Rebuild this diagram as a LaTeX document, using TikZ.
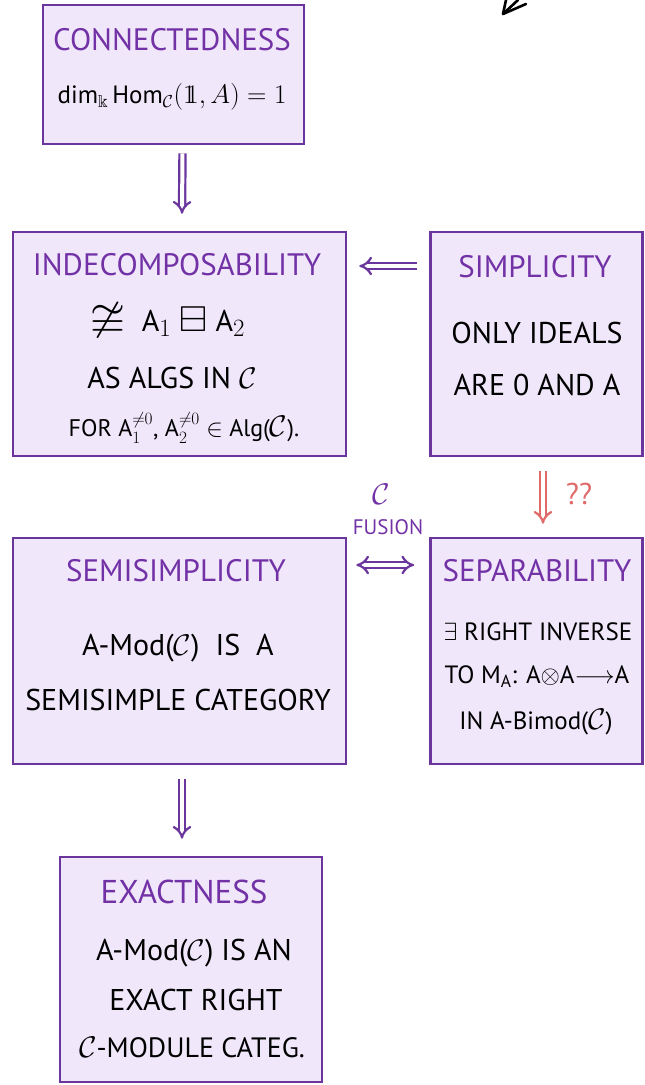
\documentclass[tikz,border=0pt]{standalone}
\usepackage{graphicx}
\usepackage{amssymb}
\usepackage{fontspec}
\setmainfont{PT Sans}
\usetikzlibrary{arrows.meta,calc}
\definecolor{boxfill}{HTML}{F0E7FB}
\definecolor{boxline}{HTML}{6A359C}
\definecolor{titlec}{HTML}{7232A6}
\definecolor{redar}{HTML}{E06A6A}
\newcommand{\cC}{\scalebox{1.2}{$\mathcal{C}$}}
\tikzset{
  box/.style={draw=boxline, fill=boxfill, line width=2.6pt, inner sep=0pt},
  ttl/.style={text=titlec, font=\fontsize{31}{34}\selectfont, inner sep=0pt},
  body/.style={text=black, font=\fontsize{30}{34}\selectfont, inner sep=0pt},
  sepbody/.style={text=black, font=\fontsize{25}{29}\selectfont, inner sep=0pt},
  small/.style={text=black, font=\fontsize{24}{28}\selectfont, inner sep=0pt},
  dbl/.style={draw=boxline, line width=2.2pt, double=white, double distance=4pt, -{Implies}},
  dblboth/.style={draw=boxline, line width=2.2pt, double=white, double distance=4pt, {Implies}-{Implies}},
  dblred/.style={draw=redar, line width=2.2pt, double=white, double distance=4pt, -{Implies}},
}
\begin{document}
\begin{tikzpicture}[x=1pt,y=-1pt]
\useasboundingbox (0,0) rectangle (645,1085);

% boxes
\node[box, minimum width=261pt, minimum height=139pt] (con) at (173.5,74.5) {};
\node[box, minimum width=333pt, minimum height=224pt] (ind) at (179.5,344) {};
\node[box, minimum width=212pt, minimum height=224pt] (sim) at (536.5,344) {};
\node[box, minimum width=333pt, minimum height=226pt] (semi) at (179.5,651) {};
\node[box, minimum width=212pt, minimum height=226pt] (sep) at (536.5,651) {};
\node[box, minimum width=262pt, minimum height=225pt] (exa) at (191,969.5) {};

% connectedness
\node[ttl] (conT) at (172,40) {CONNECTEDNESS};
\node[body, font=\fontsize{25}{29}\selectfont] (conB) at (172,97) {$\dim_{\Bbbk}\mathrm{Hom}_{\mathcal{C}}$\scalebox{1.08}{$(1\!\!1,A)=1$}};

% indecomposability
\node[ttl] (indT) at (177,265) {INDECOMPOSABILITY};
\node[body] (indB1) at (168,320) {\scalebox{1.5}{$\ncong$}\ \ A\scalebox{1.2}{$_1$} \scalebox{1.2}{$\boxminus$} A\scalebox{1.2}{$_2$}};
\node[body] (indB2) at (172,378) {AS ALGS IN \cC};
\node[small] (indB3) at (184,428) {FOR A$_1^{\neq 0}$, A$_2^{\neq 0}$ $\in$ Alg(\cC).};

% simplicity
\node[ttl] (simT) at (535,267) {SIMPLICITY};
\node[body] (simB1) at (537,333) {ONLY IDEALS};
\node[body] (simB2) at (537,385) {ARE 0 AND A};

% semisimplicity
\node[ttl] (semiT) at (176,571) {SEMISIMPLICITY};
\node[body] (semiB1) at (178,648) {A-Mod(\cC)\ \ IS\ \ A};
\node[body] (semiB2) at (178,700) {SEMISIMPLE CATEGORY};

% separability
\node[ttl] (sepT) at (537,571) {SEPARABILITY};
\node[sepbody] (sepB1) at (538,632) {$\exists$ RIGHT INVERSE};
\node[sepbody] (sepB2) at (537,677) {TO M$_\mathrm{A}$: A$\otimes$A$\longrightarrow$A};
\node[sepbody] (sepB3) at (536,722) {IN\ A-Bimod(\cC)};

% exactness
\node[ttl, font=\fontsize{33}{36}\selectfont] (exaT) at (184,892) {EXACTNESS};
\node[body] (exaB1) at (194,953) {A-Mod(\cC)\ IS\ AN};
\node[body] (exaB2) at (196,1000) {EXACT RIGHT};
\node[body, font=\fontsize{28}{32}\selectfont] (exaB3) at (192,1047) {\cC-MODULE CATEG.};

% arrows
\draw[dbl] ($(con.south)+(9,8)$) -- ($(ind.north)+(2.5,-17)$);
\draw[dbl] ($(sim.west)+(-12,-78)$) -- ($(ind.east)+(12,-78)$);
\draw[dblred] ($(sim.south)+(6.5,14)$) -- ($(sep.north)+(6.5,-13)$);
\draw[dblboth] ($(semi.east)+(9,-86)$) -- ($(sep.west)+(-15,-86)$);
\draw[dbl] ($(semi.south)+(2.5,14)$) -- ($(exa.north)+(-9,-17)$);

% labels
\node[text=redar, font=\fontsize{30}{34}\selectfont, inner sep=0pt] (qq) at (579,494) {??};
\node[text=titlec, font=\fontsize{24}{28}\selectfont, inner sep=0pt] (fusC) at (381,494) {\cC};
\node[text=titlec, font=\fontsize{21}{24}\selectfont, inner sep=0pt] (fusT) at (388,527) {FUSION};

% cut-off arrow tip at the top edge
\draw[black, line width=2.6pt, line cap=round, line join=round] (506,0) -- (503,14) -- (526,4);
\draw[black, line width=2.6pt, line cap=round] (503,14) -- (518,0);
\end{tikzpicture}
\end{document}
